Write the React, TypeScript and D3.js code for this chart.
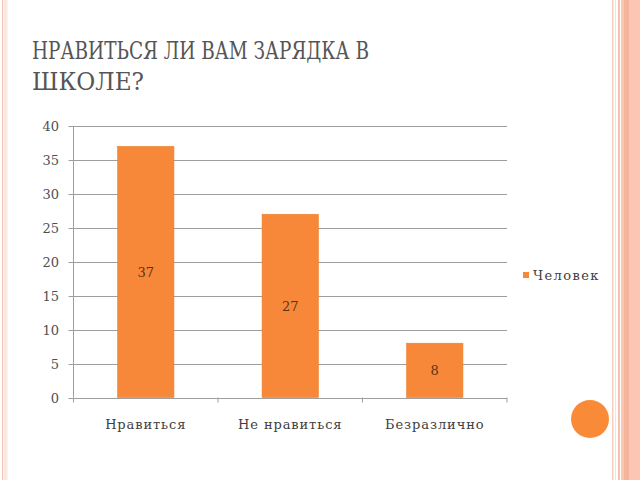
import React from "react";
import * as d3 from "d3";

const categories = ["Нравиться", "Не нравиться", "Безразлично"];
const values = [37, 27, 8];
const yTicks = [0, 5, 10, 15, 20, 25, 30, 35, 40];
const seriesName = "Человек";
const titleLines = ["НРАВИТЬСЯ ЛИ ВАМ ЗАРЯДКА В", "ШКОЛЕ?"];

export default function App() {
  const W = 640, H = 480;
  const left = 73.5, right = 507, top = 126, bottom = 397.5;
  const x = d3.scaleBand<string>().domain(categories).range([left, right]).paddingInner(0.61).paddingOuter(0.305);
  const y = d3.scaleLinear().domain([0, 40]).range([bottom, top]);
  const step = (right - left) / categories.length;
  const serif = "'DejaVu Serif', 'Liberation Serif', 'Times New Roman', serif";
  const orange = "#F7883A";
  return (
    <svg width={W} height={H} style={{ position: "absolute", left: 0, top: 0, background: "#fff" }}>
      <defs>
        <clipPath id="chartClip"><rect x={0} y={0} width={600} height={H} /></clipPath>
      </defs>
      <rect x={2} y={0} width={1.2} height={H} fill="#F4C6B4" />
      <rect x={4.5} y={0} width={1} height={H} fill="#F6CDBD" />
      <rect x={6.5} y={0} width={0.8} height={H} fill="#F8D8CB" />
      <rect x={612} y={0} width={1.5} height={H} fill="#F8CDBB" />
      <rect x={615} y={0} width={1} height={H} fill="#FBE2D8" />
      <rect x={618} y={0} width={2} height={H} fill="#F7C2AE" />
      <rect x={621} y={0} width={19} height={H} fill="#FCC6B2" />
      <rect x={624} y={0} width={5} height={H} fill="#F5B49C" />
      <circle cx={590} cy={419} r={19} fill="#F98A38" />

      {titleLines.map((t, i) => (
        <text key={i} x={32} y={59 + i * 31} fontFamily={serif} fontSize={24} fill="#555555"
          textLength={i === 0 ? 337 : 112} lengthAdjust="spacingAndGlyphs">{t}</text>
      ))}

      <g clipPath="url(#chartClip)">
        {yTicks.map((t) => (
          <line key={t} x1={left - 5} x2={right} y1={Math.round(y(t)) + 0.5} y2={Math.round(y(t)) + 0.5}
            stroke="#9E9E9E" strokeWidth={1} />
        ))}
        <line x1={left} x2={left} y1={top} y2={bottom} stroke="#9E9E9E" />
        {d3.range(categories.length + 1).map((i) => (
          <line key={i} x1={left + i * step} x2={left + i * step} y1={bottom} y2={bottom + 5} stroke="#9E9E9E" />
        ))}
        {yTicks.map((t) => (
          <text key={t} x={59} y={y(t) + 5} textAnchor="end" fontFamily={serif} fontSize={13} fill="#505050">{t}</text>
        ))}
        {categories.map((c, i) => (
          <g key={c}>
            <rect x={x(c)} y={y(values[i])} width={x.bandwidth()} height={bottom - y(values[i])}
              fill={orange} stroke="#E9802F" strokeWidth={0.6} />
            <text x={(x(c) as number) + x.bandwidth() / 2} y={(y(values[i]) + bottom) / 2 + 5}
              textAnchor="middle" fontFamily={serif} fontSize={13} fill="#5A3418">{values[i]}</text>
            <text x={(x(c) as number) + x.bandwidth() / 2} y={429} textAnchor="middle" fontFamily={serif}
              fontSize={13} fill="#404040" letterSpacing={0.9}>{c}</text>
          </g>
        ))}
        <rect x={523} y={272} width={6} height={6} fill={orange} />
        <text x={533} y={280} fontFamily={serif} fontSize={13} fill="#404040" letterSpacing={1.4}>{seriesName}</text>
      </g>
    </svg>
  );
}
